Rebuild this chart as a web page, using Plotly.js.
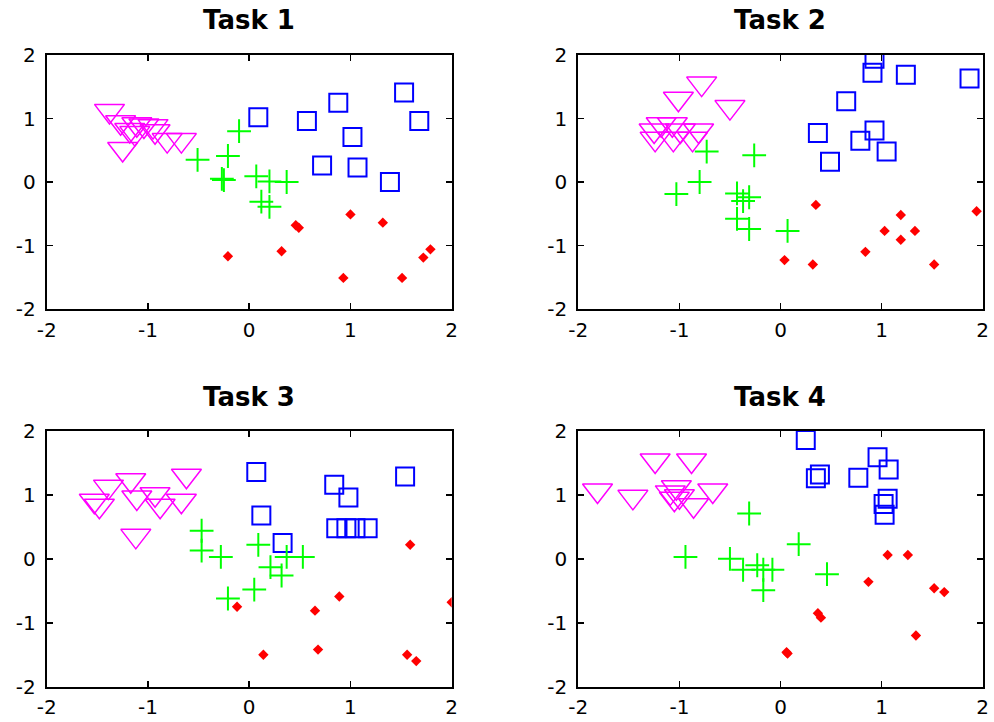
<!DOCTYPE html>
<html>
<head>
<meta charset="utf-8">
<script src="https://cdn.plot.ly/plotly-3.0.1.min.js"></script>
<style>html,body{margin:0;padding:0;background:#fff;}#chart{width:994px;height:722px;}</style>
</head>
<body>
<div id="chart"></div>
<script>
// ---- data ----
var titles = ["Task 1", "Task 2", "Task 3", "Task 4"];
var tickVals = [-2, -1, 0, 1, 2];
var tickText = ["-2", "-1", "0", "1", "2"];

// Task 1
var t1_sq_x = [0.09, 0.57, 0.88, 1.53, 1.68, 1.02, 0.72, 1.07, 1.39];
var t1_sq_y = [1.02, 0.96, 1.25, 1.41, 0.96, 0.71, 0.26, 0.23, 0.00];
var t1_cr_x = [-0.10, -0.21, -0.51, -0.27, -0.25, 0.07, 0.20, 0.37, 0.12, 0.20];
var t1_cr_y = [0.80, 0.41, 0.35, 0.05, 0.03, 0.09, 0.01, 0.00, -0.31, -0.39];
var t1_di_x = [1.00, 1.32, 0.46, 0.49, -0.21, 0.32, 0.93, 1.51, 1.72, 1.79];
var t1_di_y = [-0.51, -0.64, -0.68, -0.72, -1.17, -1.09, -1.51, -1.51, -1.19, -1.06];
var t1_tr_x = [-1.38, -1.27, -1.11, -1.04, -0.95, -1.18, -1.13, -0.93, -0.81, -0.67, -1.25];
var t1_tr_y = [1.12, 0.94, 0.91, 0.89, 0.88, 0.82, 0.77, 0.80, 0.66, 0.66, 0.52];

// Task 2
var t2_sq_x = [0.93, 0.91, 1.24, 1.87, 0.65, 0.37, 0.93, 0.79, 1.05, 0.49];
var t2_sq_y = [1.94, 1.72, 1.69, 1.63, 1.27, 0.77, 0.81, 0.65, 0.48, 0.32];
var t2_cr_x = [-0.73, -0.26, -0.80, -1.03, -0.43, -0.31, -0.37, -0.43, -0.31, 0.07];
var t2_cr_y = [0.48, 0.42, 0.00, -0.19, -0.18, -0.24, -0.30, -0.58, -0.74, -0.77];
var t2_di_x = [0.35, 1.19, 1.94, 1.03, 1.33, 1.19, 0.84, 0.04, 0.32, 1.52];
var t2_di_y = [-0.36, -0.52, -0.46, -0.77, -0.77, -0.91, -1.10, -1.23, -1.30, -1.30];
var t2_tr_x = [-0.78, -1.01, -0.50, -1.18, -1.07, -1.25, -0.99, -0.81, -1.24, -1.06, -0.87];
var t2_tr_y = [1.55, 1.31, 1.18, 0.91, 0.91, 0.81, 0.81, 0.81, 0.68, 0.68, 0.68];

// Task 3
var t3_sq_x = [0.07, 1.54, 0.84, 0.98, 0.12, 0.33, 0.86, 0.96, 1.05, 1.17];
var t3_sq_y = [1.36, 1.29, 1.16, 0.96, 0.68, 0.25, 0.48, 0.48, 0.48, 0.48];
var t3_cr_x = [-0.47, -0.47, -0.28, 0.09, 0.37, 0.53, 0.21, 0.32, 0.05, -0.21];
var t3_cr_y = [0.44, 0.13, 0.03, 0.22, 0.03, 0.03, -0.13, -0.26, -0.48, -0.62];
var t3_di_x = [-0.12, 1.59, 0.89, 0.65, 2.00, 0.14, 0.68, 1.56, 1.65];
var t3_di_y = [-0.75, 0.22, -0.59, -0.81, -0.68, -1.50, -1.42, -1.50, -1.60];
var t3_tr_x = [-0.62, -1.39, -1.17, -1.53, -1.48, -1.11, -0.93, -0.88, -0.67, -1.12];
var t3_tr_y = [1.30, 1.13, 1.23, 0.91, 0.83, 0.96, 1.01, 0.83, 0.91, 0.36];

// Task 4
var t4_sq_x = [0.25, 0.96, 1.07, 0.39, 0.35, 0.77, 1.06, 1.02, 1.03];
var t4_sq_y = [1.86, 1.59, 1.40, 1.32, 1.26, 1.27, 0.94, 0.86, 0.69];
var t4_cr_x = [-0.31, 0.18, -0.94, -0.50, -0.37, -0.23, -0.17, -0.08, 0.46, -0.17];
var t4_cr_y = [0.71, 0.23, 0.03, 0.00, -0.17, -0.10, -0.17, -0.17, -0.24, -0.49];
var t4_di_x = [1.06, 1.26, 0.87, 1.52, 1.62, 0.37, 0.40, 1.34, 0.07, 0.06];
var t4_di_y = [0.06, 0.06, -0.36, -0.46, -0.52, -0.85, -0.92, -1.20, -1.48, -1.46];
var t4_tr_x = [-1.24, -0.88, -1.81, -1.46, -1.03, -1.09, -1.00, -1.05, -0.67, -0.86];
var t4_tr_y = [1.54, 1.54, 1.07, 0.97, 1.12, 1.04, 0.98, 0.94, 1.07, 0.84];

var panels = [
  {sx: t1_sq_x, sy: t1_sq_y, cx: t1_cr_x, cy: t1_cr_y, dx: t1_di_x, dy: t1_di_y, tx: t1_tr_x, ty: t1_tr_y},
  {sx: t2_sq_x, sy: t2_sq_y, cx: t2_cr_x, cy: t2_cr_y, dx: t2_di_x, dy: t2_di_y, tx: t2_tr_x, ty: t2_tr_y},
  {sx: t3_sq_x, sy: t3_sq_y, cx: t3_cr_x, cy: t3_cr_y, dx: t3_di_x, dy: t3_di_y, tx: t3_tr_x, ty: t3_tr_y},
  {sx: t4_sq_x, sy: t4_sq_y, cx: t4_cr_x, cy: t4_cr_y, dx: t4_di_x, dy: t4_di_y, tx: t4_tr_x, ty: t4_tr_y}
];

var traces = [];
panels.forEach(function (p, i) {
  var xa = i === 0 ? 'x' : 'x' + (i + 1);
  var ya = i === 0 ? 'y' : 'y' + (i + 1);
  traces.push({x: p.sx, y: p.sy, xaxis: xa, yaxis: ya, type: 'scatter', mode: 'markers', showlegend: false,
    marker: {symbol: 'square-open', size: 18, color: '#0000ff', line: {color: '#0000ff', width: 2}}});
  traces.push({x: p.cx, y: p.cy, xaxis: xa, yaxis: ya, type: 'scatter', mode: 'markers', showlegend: false,
    marker: {symbol: 'cross-thin-open', size: 17, color: '#00ff00', line: {color: '#00ff00', width: 2}}});
  traces.push({x: p.dx, y: p.dy, xaxis: xa, yaxis: ya, type: 'scatter', mode: 'markers', showlegend: false,
    marker: {symbol: 'diamond', size: 8, color: '#ff0000', line: {width: 0}}});
  traces.push({x: p.tx, y: p.ty, xaxis: xa, yaxis: ya, type: 'scatter', mode: 'markers', showlegend: false,
    marker: {symbol: 'triangle-down-open', size: 26, color: '#ff00ff', line: {color: '#ff00ff', width: 1.5}}});
});

function axisBase(domain, anchor, standoff) {
  return {
    domain: domain, anchor: anchor, range: [-2, 2], autorange: false,
    tickmode: 'array', tickvals: tickVals, ticktext: tickText,
    ticks: 'inside', ticklen: 6, tickwidth: 1.5, tickcolor: '#000',
    showline: true, linecolor: '#000', linewidth: 2, mirror: 'ticks',
    showgrid: false, zeroline: false, ticklabelstandoff: standoff,
    tickfont: {family: 'DejaVu Sans, sans-serif', size: 20, color: '#000'}
  };
}

var xd = [[0.047, 0.4544], [0.5818, 0.9886]];
var yd = [[0.572, 0.9238], [0.0489, 0.403]];

var layout = {
  width: 994, height: 722,
  margin: {l: 0, r: 0, t: 0, b: 0},
  paper_bgcolor: '#fff', plot_bgcolor: '#fff',
  xaxis: axisBase(xd[0], 'y', 2), yaxis: axisBase(yd[0], 'x', 5),
  xaxis2: axisBase(xd[1], 'y2', 2), yaxis2: axisBase(yd[0], 'x2', 5),
  xaxis3: axisBase(xd[0], 'y3', 1), yaxis3: axisBase(yd[1], 'x3', 5),
  xaxis4: axisBase(xd[1], 'y4', 1), yaxis4: axisBase(yd[1], 'x4', 5),
  annotations: []
};

var titlePos = [[0.2505, 0.972], [0.7852, 0.972], [0.2505, 0.450], [0.7852, 0.450]];
titles.forEach(function (t, i) {
  layout.annotations.push({
    text: '<b>' + t + '</b>', xref: 'paper', yref: 'paper',
    x: titlePos[i][0], y: titlePos[i][1], xanchor: 'center', yanchor: 'middle',
    showarrow: false, font: {family: 'DejaVu Sans, sans-serif', size: 26, color: '#000'}
  });
});

Plotly.newPlot('chart', traces, layout, {displayModeBar: false, staticPlot: true});
</script>
</body>
</html>
